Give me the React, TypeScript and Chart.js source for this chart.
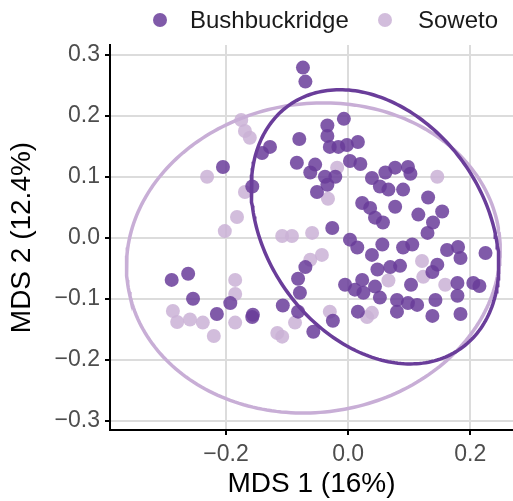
import React, { useEffect, useRef } from "react";
import { Chart, registerables } from "chart.js";
Chart.register(...registerables);

const groups = ["Bushbuckridge", "Soweto"];
const groupColors = ["rgba(106,61,154,0.85)", "rgba(202,178,214,0.85)"];
const ellipseColors = ["#6a3d9a", "#c8aed6"];

const bushX = [
  -0.074, -0.07, -0.007, -0.034, -0.034, -0.08, -0.128, -0.141, -0.03, -0.016,
  -0.002, 0.016, 0.003, 0.02, -0.084, -0.054, -0.062, -0.038, -0.021, 0.039,
  -0.205, -0.157, 0.061, 0.077, 0.098, 0.102, 0.052, 0.066, 0.09, 0.023,
  0.036, 0.077, 0.044, 0.057, 0.131, 0.154, 0.115, 0.139, 0.13, -0.026,
  0.003, -0.051, -0.034, 0.015, 0.039, 0.056, 0.09, 0.105, 0.162, 0.18,
  0.184, 0.225, 0.048, 0.069, 0.085, 0.146, 0.138, -0.005, 0.011, 0.023,
  0.044, 0.052, 0.08, 0.098, 0.113, 0.103, 0.143, 0.179, 0.179, 0.205,
  0.215, 0.016, 0.08, 0.138, 0.184, -0.025, -0.057, -0.07, -0.082, -0.079,
  -0.107, 0.025, -0.156, -0.082, -0.289, -0.262, -0.254, -0.215, -0.193, -0.157,
];
const bushY = [
  0.279, 0.256, 0.195, 0.184, 0.167, 0.162, 0.149, 0.139, 0.149, 0.149,
  0.152, 0.157, 0.126, 0.121, 0.123, 0.12, 0.107, 0.1, 0.1, 0.098,
  0.116, 0.084, 0.107, 0.115, 0.116, 0.105, 0.084, 0.079, 0.079, 0.057,
  0.049, 0.051, 0.033, 0.025, 0.066, 0.043, 0.038, 0.025, 0.008, 0.016,
  -0.003, 0.075, 0.087, -0.016, -0.028, -0.011, -0.016, -0.011, -0.02, -0.015,
  -0.033, -0.025, -0.052, -0.048, -0.046, -0.044, -0.056, -0.077, -0.085, -0.069,
  -0.08, -0.098, -0.102, -0.107, -0.11, -0.077, -0.102, -0.074, -0.095, -0.074,
  -0.079, -0.121, -0.121, -0.128, -0.125, -0.136, -0.154, -0.048, -0.067, -0.09,
  -0.111, -0.09, -0.126, -0.121, -0.069, -0.059, -0.1, -0.125, -0.107, -0.13,
];
const sowetoX = [
  -0.175, -0.169, -0.161, -0.231, -0.169, -0.182, -0.202, -0.108, -0.092, -0.059,
  -0.033, -0.018, 0.146, -0.043, -0.062, 0.121, 0.123, 0.066, 0.159, 0.031,
  -0.03, -0.185, -0.185, -0.287, -0.28, -0.259, -0.238, -0.185, -0.22, -0.116,
  -0.108, -0.087, 0.039,
];
const sowetoY = [
  0.193, 0.175, 0.164, 0.1, 0.075, 0.034, 0.011, 0.003, 0.003, 0.008,
  0.064, 0.115, 0.1, -0.028, -0.036, -0.038, -0.064, -0.07, -0.077, -0.13,
  -0.121, -0.069, -0.092, -0.12, -0.138, -0.134, -0.139, -0.139, -0.161, -0.156,
  -0.162, -0.139, -0.123,
];

const xTicks = [-0.2, 0, 0.2];
const yTicks = [-0.3, -0.2, -0.1, 0, 0.1, 0.2, 0.3];
const xRange = [-0.39, 0.27];
const yRange = [-0.315, 0.316];

// 95% ellipse parameters: center, semi-axes, rotation (deg)
const ellipseCenters = [[0.044, 0.018], [-0.057, -0.033]];
const ellipseSemiAxes = [[0.244, 0.179], [0.307, 0.253]];
const ellipseAnglesDeg = [-55, 8];

const xTitle = "MDS 1 (16%)";
const yTitle = "MDS 2 (12.4%)";

function ellipsePath(i: number) {
  const [cx, cy] = ellipseCenters[i];
  const [a, b] = ellipseSemiAxes[i];
  const th = (ellipseAnglesDeg[i] * Math.PI) / 180;
  const pts: { x: number; y: number }[] = [];
  const n = 240;
  for (let k = 0; k <= n; k++) {
    const t = (2 * Math.PI * k) / n;
    const ex = a * Math.cos(t);
    const ey = b * Math.sin(t);
    pts.push({ x: cx + ex * Math.cos(th) - ey * Math.sin(th), y: cy + ex * Math.sin(th) + ey * Math.cos(th) });
  }
  return pts;
}

const fmt = (v: number) => {
  const s = Math.abs(v) < 1e-9 ? "0.0" : v.toFixed(1);
  return s.replace("-", "\u2212");
};

const FONT = "'Liberation Sans', Arial, Helvetica, sans-serif";

const legendPlugin = {
  id: "customLegend",
  afterDraw(chart: any) {
    const ctx = chart.ctx;
    ctx.save();
    ctx.font = `24px ${FONT}`;
    ctx.textBaseline = "middle";
    const items = [
      { dot: 160, text: 190 },
      { dot: 385, text: 418 },
    ];
    items.forEach((it, i) => {
      ctx.beginPath();
      ctx.fillStyle = groupColors[i];
      ctx.arc(it.dot, 20, 7, 0, Math.PI * 2);
      ctx.fill();
      ctx.fillStyle = "#1a1a1a";
      ctx.fillText(groups[i], it.text, 21);
    });
    ctx.restore();
  },
};

export default function App() {
  const ref = useRef<HTMLCanvasElement>(null);
  useEffect(() => {
    document.body.style.margin = "0";
    const canvas = ref.current!;
    const bush = bushX.map((x, i) => ({ x, y: bushY[i] }));
    const sow = sowetoX.map((x, i) => ({ x, y: sowetoY[i] }));
    const chart = new Chart(canvas, {
      type: "scatter",
      data: {
        datasets: [
          {
            label: "ellipse-" + groups[0],
            data: ellipsePath(0),
            showLine: true,
            borderColor: ellipseColors[0],
            borderWidth: 3.5,
            pointRadius: 0,
            fill: false,
            order: 0,
          } as any,
          {
            label: "ellipse-" + groups[1],
            data: ellipsePath(1),
            showLine: true,
            borderColor: ellipseColors[1],
            borderWidth: 3.5,
            pointRadius: 0,
            fill: false,
            order: 0,
          } as any,
          {
            label: groups[0],
            data: bush,
            backgroundColor: groupColors[0],
            borderWidth: 0,
            pointRadius: 7,
            order: 1,
          },
          {
            label: groups[1],
            data: sow,
            backgroundColor: groupColors[1],
            borderWidth: 0,
            pointRadius: 7,
            order: 2,
          },
        ],
      },
      options: {
        responsive: false,
        animation: false,
        events: [],
        layout: { autoPadding: false, padding: { top: 45, left: 0, right: 0, bottom: 0 } },
        plugins: { legend: { display: false }, tooltip: { enabled: false } },
        scales: {
          x: {
            type: "linear",
            min: xRange[0],
            max: xRange[1],
            afterBuildTicks: (s: any) => {
              s.ticks = xTicks.map((v) => ({ value: v }));
            },
            afterFit: (s: any) => {
              s.height = 71;
            },
            grid: { color: "#dcdcdc", lineWidth: 2, tickColor: "#000", tickLength: 5, tickWidth: 2 },
            border: { display: true, color: "#000", width: 2 },
            ticks: {
              callback: (v: any) => fmt(Number(v)),
              color: "#4d4d4d",
              font: { family: FONT, size: 23 },
              padding: 6,
              maxRotation: 0,
            },
            title: { display: true, text: xTitle, color: "#000", font: { family: FONT, size: 28 }, padding: { top: 0, bottom: 0 } },
          },
          y: {
            type: "linear",
            min: yRange[0],
            max: yRange[1],
            afterBuildTicks: (s: any) => {
              s.ticks = yTicks.map((v) => ({ value: v }));
            },
            afterFit: (s: any) => {
              s.width = 110;
            },
            grid: { color: "#dcdcdc", lineWidth: 2, tickColor: "#000", tickLength: 5, tickWidth: 2 },
            border: { display: true, color: "#000", width: 2 },
            ticks: {
              callback: (v: any) => fmt(Number(v)),
              color: "#4d4d4d",
              font: { family: FONT, size: 23 },
              padding: 5,
            },
            title: { display: true, text: yTitle, color: "#000", font: { family: FONT, size: 28 }, padding: { top: 5, bottom: 0 } },
          },
        },
      } as any,
      plugins: [legendPlugin],
    });
    return () => chart.destroy();
  }, []);
  return <canvas ref={ref} width={513} height={501} style={{ display: "block", width: 513, height: 501 }} />;
}
